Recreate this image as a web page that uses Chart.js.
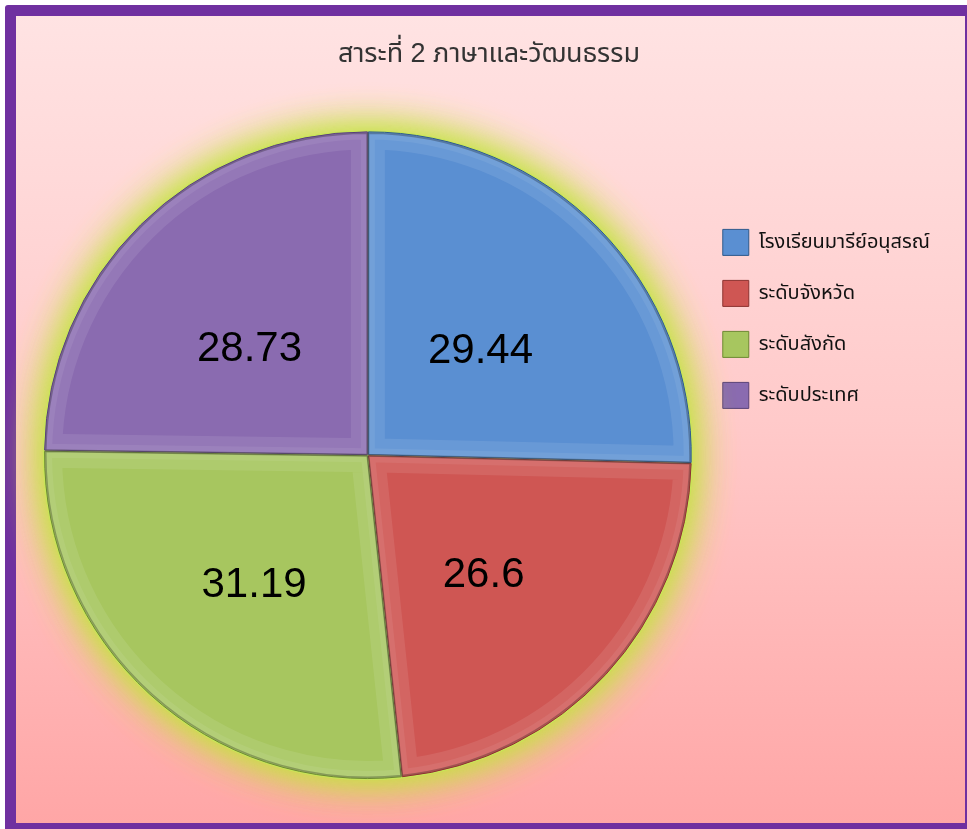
<!DOCTYPE html>
<html>
<head>
<meta charset="utf-8">
<script src="https://cdn.jsdelivr.net/npm/chart.js@4"></script>
<style>
    html, body { margin: 0; padding: 0; width: 967px; height: 829px; overflow: hidden; background: #fff; }
    #frame {
        position: absolute; left: 5px; top: 5px;
        width: 949px; height: 807px;
        border-style: solid; border-color: #7030a0;
        border-width: 11px 2px 6px 11px;
        border-radius: 3px 0 0 0;
        background: linear-gradient(to bottom, #ffe3e3 0%, #ffcaca 50%, #ffa6a6 100%);
    }
    #chart { position: absolute; left: 0; top: 0; }
</style>
</head>
<body>
<div id="frame"></div>
<canvas id="chart" width="967" height="829"></canvas>
<script>
const TITLE = "สาระที่ 2 ภาษาและวัฒนธรรม";
const categories = ["โรงเรียนมารีย์อนุสรณ์", "ระดับจังหวัด", "ระดับสังกัด", "ระดับประเทศ"];
const values = [29.44, 26.6, 31.19, 28.73];
const sliceColors = ["#5a8fd2", "#cf5653", "#a7c65f", "#8a6bb0"];
const edgeColors = ["#2f5a8c", "#8c3330", "#6d8a33", "#5a4278"];

const FONT = "'Liberation Sans', Arial, 'Noto Sans Thai', Tahoma, sans-serif";

// soft yellow-green glow behind the pie
const glowPlugin = {
    id: "glow",
    beforeDatasetsDraw(chart) {
        const arc = chart.getDatasetMeta(0).data[0];
        if (!arc) return;
        const { x, y, outerRadius } = arc.getProps(["x", "y", "outerRadius"], true);
        const ctx = chart.ctx;
        ctx.save();
        ctx.shadowColor = "rgba(195, 228, 60, 1)";
        ctx.shadowBlur = 40;
        ctx.fillStyle = "rgba(200, 230, 90, 1)";
        for (let k = 0; k < 2; k++) {
            ctx.beginPath();
            ctx.arc(x, y, outerRadius + 2, 0, Math.PI * 2);
            ctx.fill();
        }
        ctx.restore();
    }
};

// bevel band inside each slice + the value labels
const bevelAndLabels = {
    id: "bevelAndLabels",
    afterDatasetsDraw(chart) {
        const ctx = chart.ctx;
        const meta = chart.getDatasetMeta(0);
        meta.data.forEach((arc, i) => {
            const p = arc.getProps(["x", "y", "startAngle", "endAngle", "outerRadius"], true);
            ctx.save();
            ctx.beginPath();
            ctx.moveTo(p.x, p.y);
            ctx.arc(p.x, p.y, p.outerRadius, p.startAngle, p.endAngle);
            ctx.closePath();
            ctx.clip();
            ctx.lineJoin = "miter";
            ctx.lineWidth = 34;
            ctx.strokeStyle = "rgba(255, 255, 255, 0.09)";
            ctx.stroke();
            ctx.lineWidth = 14;
            ctx.strokeStyle = "rgba(255, 255, 255, 0.07)";
            ctx.stroke();
            ctx.lineWidth = 3;
            ctx.strokeStyle = "rgba(0, 0, 0, 0.25)";
            ctx.stroke();
            ctx.restore();
        });
        meta.data.forEach((arc, i) => {
            const pos = arc.tooltipPosition(true);
            ctx.save();
            ctx.font = "42px " + FONT;
            ctx.fillStyle = "#000";
            ctx.textAlign = "center";
            ctx.textBaseline = "middle";
            // text sits a little lower-left of the slice centroid
            ctx.fillText(String(values[i]), pos.x - 4, pos.y + 10);
            ctx.restore();
        });
    }
};

const ctx = document.getElementById("chart").getContext("2d");
new Chart(ctx, {
    type: "pie",
    data: {
        labels: categories,
        datasets: [{
            data: values,
            backgroundColor: sliceColors,
            borderColor: edgeColors,
            borderWidth: 1,
            offset: 3
        }]
    },
    options: {
        responsive: false,
        animation: false,
        layout: { padding: { left: 38, right: 27, top: 0, bottom: 49 } },
        plugins: {
            tooltip: { enabled: false },
            title: {
                display: true,
                text: TITLE,
                color: "#333",
                font: { family: FONT, size: 27, weight: "normal" },
                padding: { top: 38, bottom: 60 }
            },
            legend: {
                position: "right",
                align: "start",
                fullSize: false,
                title: { display: true, text: "", font: { size: 10 }, padding: { top: 62, bottom: 0 } },
                labels: {
                    boxWidth: 26,
                    boxHeight: 26,
                    padding: 25,
                    color: "#111",
                    font: { family: FONT, size: 20 }
                }
            }
        }
    },
    plugins: [glowPlugin, bevelAndLabels]
});
</script>
</body>
</html>
